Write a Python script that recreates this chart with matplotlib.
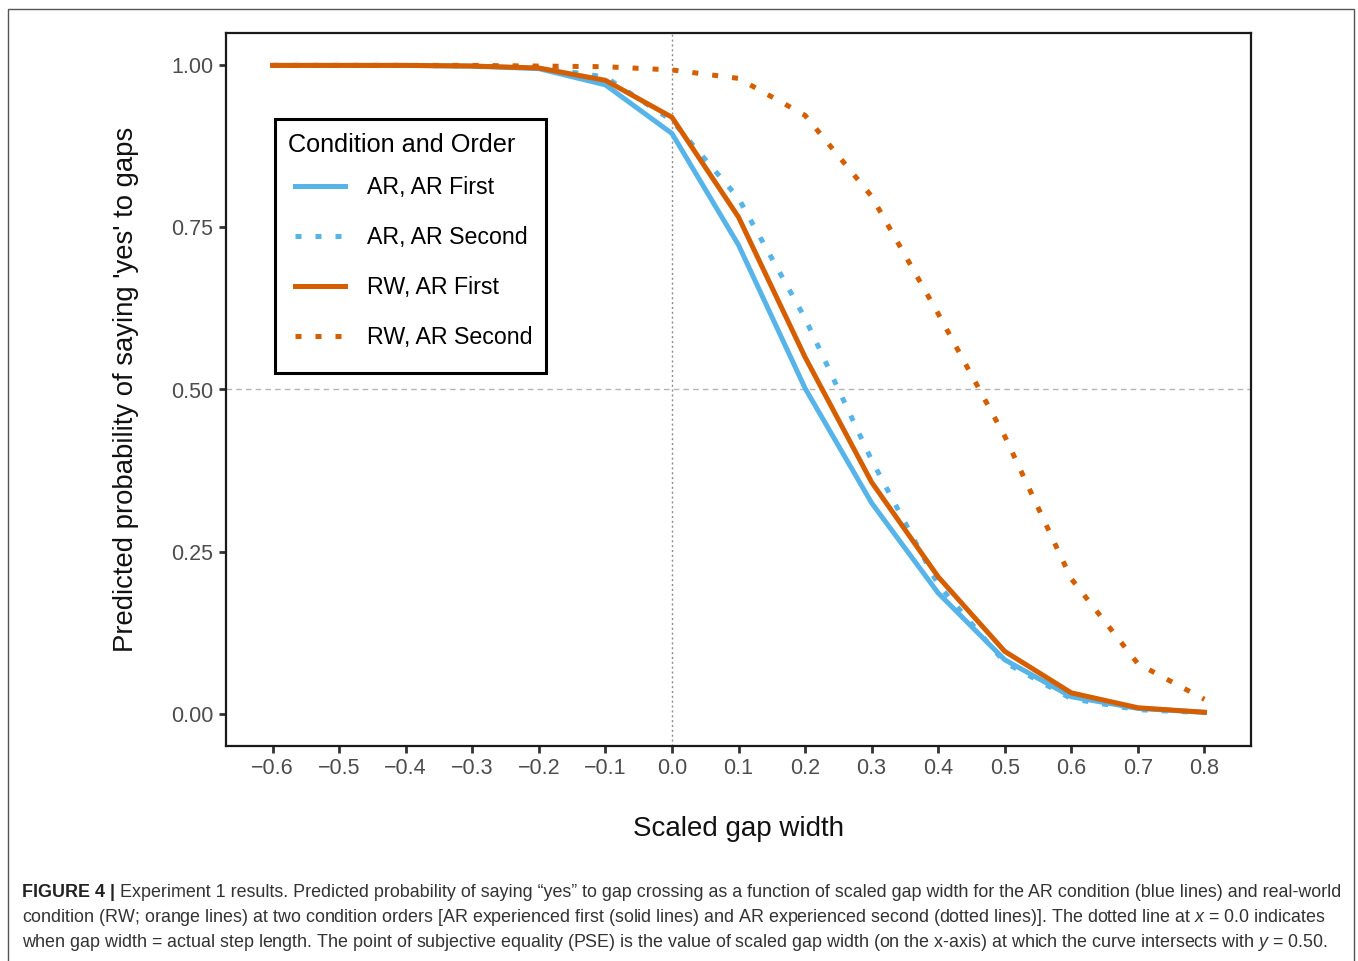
import numpy as np
import matplotlib
matplotlib.use("Agg")
import matplotlib.pyplot as plt
from matplotlib.lines import Line2D
from matplotlib.patches import Rectangle

plt.rcParams['font.family'] = ['Liberation Sans', 'DejaVu Sans']
plt.rcParams['mathtext.fontset'] = 'custom'
plt.rcParams['mathtext.rm'] = 'Liberation Sans'
plt.rcParams['mathtext.it'] = 'Liberation Sans:italic'

# ------------------------------------------------------------------
#     values (scaled gap width vs probability)
# ------------------------------------------------------------------
gap_width = [-0.6, -0.5, -0.4, -0.3, -0.2, -0.1, 0.0, 0.1, 0.2, 0.3, 0.4, 0.5, 0.6, 0.7, 0.8]

ar_first = [1.0, 1.0, 1.0, 0.999, 0.995, 0.970, 0.895, 0.723, 0.502, 0.325, 0.186, 0.083, 0.026, 0.008, 0.002]
ar_second = [1.0, 1.0, 1.0, 0.999, 0.997, 0.982, 0.915, 0.795, 0.610, 0.391, 0.199, 0.079, 0.023, 0.006, 0.0015]
rw_first = [1.0, 1.0, 1.0, 0.999, 0.996, 0.977, 0.920, 0.766, 0.550, 0.357, 0.211, 0.096, 0.032, 0.009, 0.002]
rw_second = [1.0, 1.0, 1.0, 1.0, 0.999, 0.998, 0.993, 0.980, 0.923, 0.798, 0.617, 0.428, 0.208, 0.077, 0.022]

series_labels = ["AR, AR First", "AR, AR Second", "RW, AR First", "RW, AR Second"]
legend_title = "Condition and Order"

x_ticks = [-0.6, -0.5, -0.4, -0.3, -0.2, -0.1, 0.0, 0.1, 0.2, 0.3, 0.4, 0.5, 0.6, 0.7, 0.8]
y_ticks = [0.0, 0.25, 0.5, 0.75, 1.0]

caption_bold = "FIGURE 4 |"
caption_lines = [
    " Experiment 1 results. Predicted probability of saying \u201cyes\u201d to gap crossing as a function of scaled gap width for the AR condition (blue lines) and real-world",
    "condition (RW; orange lines) at two condition orders [AR experienced first (solid lines) and AR experienced second (dotted lines)]. The dotted line at $x$ = 0.0 indicates",
    "when gap width = actual step length. The point of subjective equality (PSE) is the value of scaled gap width (on the x-axis) at which the curve intersects with $y$ = 0.50.",
]

BLUE = '#56B4E9'
ORANGE = '#D55E00'
LW = 3.6
DOTS = (0, (1.2, 2.8))

fig = plt.figure(figsize=(13.58, 9.61), dpi=100)
ax = fig.add_axes([226 / 1358, 1 - 746 / 961, (1251 - 226) / 1358, (746 - 33) / 961])

# reference lines
ax.axhline(0.5, color='#b5b5b5', lw=1.0, ls=(0, (4, 3)), zorder=1)
ax.axvline(0.0, color='#8c8c8c', lw=1.0, ls=(0, (1.5, 2)), zorder=1)

ax.plot(gap_width, ar_first, color=BLUE, lw=LW, solid_joinstyle='miter', zorder=3)
ax.plot(gap_width, ar_second, color=BLUE, lw=LW, ls=DOTS, dash_capstyle='butt', zorder=3)
ax.plot(gap_width, rw_first, color=ORANGE, lw=LW, solid_joinstyle='miter', zorder=4)
ax.plot(gap_width, rw_second, color=ORANGE, lw=LW, ls=DOTS, dash_capstyle='butt', zorder=4)

ax.set_xlim(-0.67, 0.87)
ax.set_ylim(-0.05, 1.05)
ax.set_xticks(x_ticks)
ax.set_xticklabels(["{:.1f}".format(v).replace('-', '\u2212') for v in x_ticks])
ax.set_yticks(y_ticks)
ax.set_yticklabels(["{:.2f}".format(v) for v in y_ticks])
ax.tick_params(axis='both', length=5, width=2, color='#333333', labelcolor='#4d4d4d',
               labelsize=15.5, pad=4)
for side in ['top', 'bottom', 'left', 'right']:
    ax.spines[side].set_color('#1a1a1a')
    ax.spines[side].set_linewidth(1.6)

ax.set_xlabel("Scaled gap width", fontsize=20, color='#111111', labelpad=26)
ax.set_ylabel("Predicted probability of saying 'yes' to gaps", fontsize=19.8, color='#111111', labelpad=23)

# legend: entries via ax.legend, title and frame drawn separately
handles = [
    Line2D([], [], color=BLUE, lw=LW),
    Line2D([], [], color=BLUE, lw=LW, ls=DOTS, dash_capstyle='butt'),
    Line2D([], [], color=ORANGE, lw=LW),
    Line2D([], [], color=ORANGE, lw=LW, ls=DOTS, dash_capstyle='butt'),
]
leg = ax.legend(handles, series_labels, loc='upper left',
                bbox_to_anchor=(55 / 1025, (746 - 162.5) / 713), borderaxespad=0,
                fontsize=16.7, frameon=False,
                handlelength=2.15, handletextpad=0.96, labelspacing=1.164,
                borderpad=0.6)
ax.text(62 / 1025, (746 - 145) / 713, legend_title, transform=ax.transAxes,
        fontsize=18.2, color='black', ha='left', va='center', zorder=6)
ax.add_patch(Rectangle((49 / 1025, (746 - 373) / 713), (546 - 275) / 1025, (373 - 119) / 713,
                       transform=ax.transAxes, fill=False, edgecolor='black', lw=2.2, zorder=5))

# outer frame around figure and caption
fig.patches.append(Rectangle((8 / 1358, -0.02), (1354 - 8) / 1358, 1.02 - 9 / 961,
                             transform=fig.transFigure, fill=False, edgecolor='#555555', lw=1.0))

# caption
cap_size = 12.85
cap_color = '#333333'
t0 = fig.text(22 / 1358, 1 - 897 / 961, caption_bold, fontsize=cap_size, fontweight='bold',
              color='#222222', va='baseline')
fig.canvas.draw()
ax.annotate(caption_lines[0], xy=(1, 0), xycoords=t0, fontsize=cap_size, color=cap_color,
            va='bottom', annotation_clip=False)
fig.text(22 / 1358, 1 - 922 / 961, caption_lines[1], fontsize=cap_size, color=cap_color, va='baseline')
fig.text(22 / 1358, 1 - 947 / 961, caption_lines[2], fontsize=cap_size, color=cap_color, va='baseline')

fig.savefig("out.png", dpi=100)
